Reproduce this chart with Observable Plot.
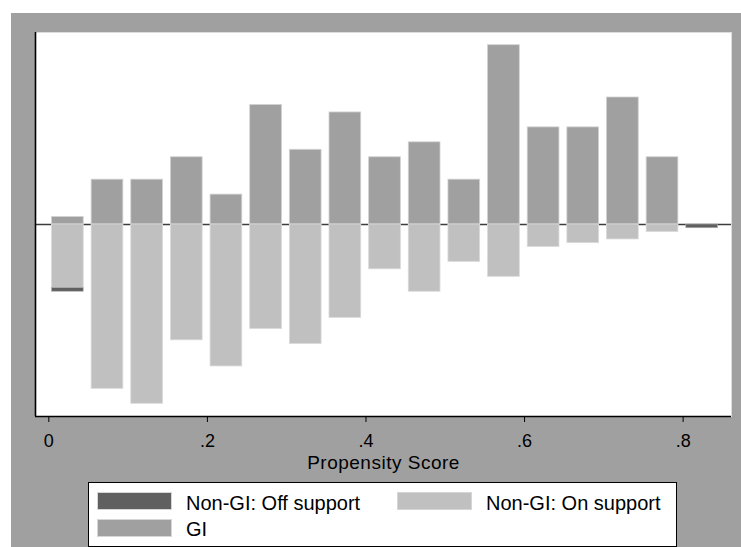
<!DOCTYPE html>
<html>
<head>
<meta charset="utf-8">
<script src="https://cdn.jsdelivr.net/npm/d3@7"></script>
<script src="https://cdn.jsdelivr.net/npm/@observablehq/plot@0.6"></script>
<style>
  html, body { margin: 0; padding: 0; background: #ffffff; }
  body { width: 741px; height: 547px; position: relative; overflow: hidden; font-family: "Liberation Sans", Arial, sans-serif; }
  #panel { position: absolute; left: 11px; top: 13px; width: 730px; height: 534px; background: #a0a0a0; }
  #chart { position: absolute; left: 0; top: 0; }
  #chart g[aria-label="x-axis label"] text { letter-spacing: 0.5px; font-size: 19px; }
  #legend { position: absolute; left: 88px; top: 482px; width: 589px; height: 65px; box-sizing: border-box;
            border: 1.3px solid #000; background: #fff; }
  .sw { position: absolute; width: 75px; height: 18px; box-sizing: border-box; border: 1px solid #d6d6d6; }
  .lab { position: absolute; font-size: 20px; line-height: 20px; color: #000; white-space: nowrap; }
</style>
</head>
<body>
<div id="panel"><div id="chart"></div></div>
<div id="legend"></div>
<script>
// Propensity-score bins (midpoints) and counts per group
const binMid = [0.024, 0.074, 0.124, 0.174, 0.224, 0.274, 0.324, 0.374, 0.424,
                0.474, 0.524, 0.574, 0.624, 0.674, 0.724, 0.774, 0.824];
const giCount = [1, 6, 6, 9, 4, 16, 10, 15, 9, 11, 6, 24, 13, 13, 17, 9, 0];
const nonGiOnSupport = [8.5, 22, 24, 15.5, 19, 14, 16, 12.5, 6, 9, 5, 7, 3, 2.5, 2, 1, 0];
const nonGiOffSupport = [0.5, 0, 0, 0, 0, 0, 0, 0, 0, 0, 0, 0, 0, 0, 0, 0, 0.5];
const binHalfWidth = 0.02;

const tickValues = [0, 0.2, 0.4, 0.6, 0.8];
const tickLabels = ["0", ".2", ".4", ".6", ".8"];

const legendItems = [
  {label: "Non-GI: Off support", color: "#606060"},
  {label: "Non-GI: On support", color: "#c0c0c0"},
  {label: "GI", color: "#a0a0a0"}
];

const colors = {gi: "#a0a0a0", on: "#c0c0c0", off: "#606060"};

const xDomain = [-0.0168, 0.861];
const yDomain = [-25.7, 25.7];

const rows = binMid.map((m, i) => ({
  x1: m - binHalfWidth,
  x2: m + binHalfWidth,
  gi: giCount[i],
  on: nonGiOnSupport[i],
  off: nonGiOffSupport[i]
}));

const chart = Plot.plot({
  width: 730,
  height: 460,
  marginLeft: 24,
  marginTop: 19,
  marginRight: 10,
  marginBottom: 57,
  style: {background: "transparent", fontFamily: "'Liberation Sans', Arial, sans-serif", fontSize: "18px", color: "#000", overflow: "visible"},
  x: {domain: xDomain},
  y: {domain: yDomain, axis: null},
  marks: [
    Plot.frame({fill: "#ffffff", stroke: "#dcdcdc"}),
    Plot.ruleY([0], {stroke: "#3c3c3c", strokeWidth: 1.6}),
    // GI above the zero line
    Plot.rectY(rows.filter(d => d.gi > 0), {x1: "x1", x2: "x2", y1: 0, y2: "gi", fill: colors.gi, stroke: "#d2d2d2", strokeWidth: 0.8}),
    // Non-GI on support below the zero line
    Plot.rectY(rows.filter(d => d.on > 0), {x1: "x1", x2: "x2", y1: 0, y2: d => -d.on, fill: colors.on, stroke: "#dadada", strokeWidth: 0.8}),
    // Non-GI off support stacked beneath
    Plot.rectY(rows.filter(d => d.off > 0), {x1: "x1", x2: "x2", y1: d => -d.on, y2: d => -(d.on + d.off), fill: colors.off, stroke: "#b0b0b0", strokeWidth: 0.6}),
    Plot.ruleX([xDomain[0]], {stroke: "#000", strokeWidth: 1.6}),
    Plot.ruleY([yDomain[0]], {stroke: "#000", strokeWidth: 1.6}),
    Plot.axisX({
      ticks: tickValues,
      tickFormat: (d, i) => tickLabels[i],
      tickSize: 6,
      tickPadding: 12,
      fontSize: 18,
      label: "Propensity Score",
      labelAnchor: "center",
      labelArrow: "none",
      labelOffset: 52
    })
  ]
});
document.getElementById("chart").appendChild(chart);

// Legend box below the plot
const legend = document.getElementById("legend");
const slots = [
  {sx: 8, sy: 8.5, tx: 97, ty: 9.5},
  {sx: 308, sy: 8.5, tx: 397, ty: 9.5},
  {sx: 8, sy: 35.5, tx: 97, ty: 35.5}
];
legendItems.forEach((item, i) => {
  const s = slots[i];
  const sw = document.createElement("div");
  sw.className = "sw";
  sw.style.left = s.sx + "px";
  sw.style.top = s.sy + "px";
  sw.style.background = item.color;
  legend.appendChild(sw);
  const t = document.createElement("div");
  t.className = "lab";
  t.style.left = s.tx + "px";
  t.style.top = s.ty + "px";
  t.textContent = item.label;
  legend.appendChild(t);
});
</script>
</body>
</html>
